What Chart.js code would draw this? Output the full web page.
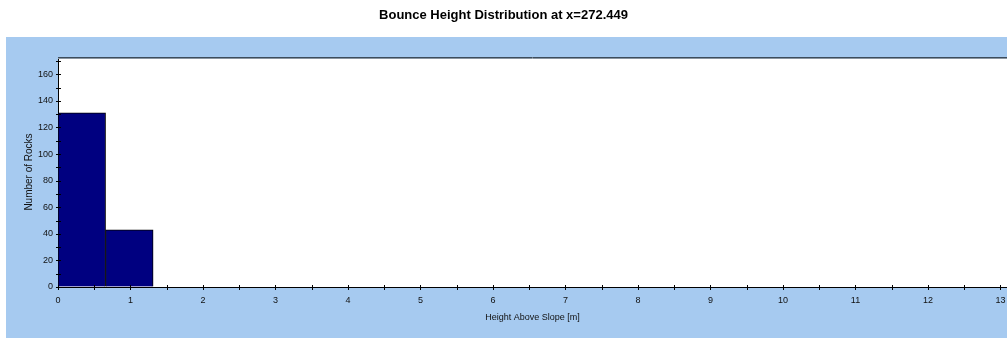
<!DOCTYPE html>
<html>
<head>
<meta charset="utf-8">
<script src="https://cdn.jsdelivr.net/npm/chart.js@4/dist/chart.umd.min.js"></script>
<style>
  html, body { margin: 0; padding: 0; background: #fff; overflow: hidden; }
  #wrap { width: 1007px; height: 338px; }
</style>
</head>
<body>
<div id="wrap"><canvas id="chart" width="1007" height="338"></canvas></div>
<script>
// histogram bins (left edge of each bin, in m) and rock counts
const binStarts = [0, 0.656];
const binWidth = 0.656;
const rockCounts = [131, 43];

const xTicks = [0, 1, 2, 3, 4, 5, 6, 7, 8, 9, 10, 11, 12, 13];
const yTicks = [0, 20, 40, 60, 80, 100, 120, 140, 160];

const chartTitle = 'Bounce Height Distribution at x=272.449';
const xTitle = 'Height Above Slope [m]';
const yTitle = 'Number of Rocks';

const bars = binStarts.map((s, i) => ({ x: s + binWidth / 2, y: rockCounts[i] }));

// blue panel behind the plot and white plot area
const panelBg = {
  id: 'panelBg',
  beforeDraw(chart) {
    const { ctx, chartArea: a } = chart;
    ctx.save();
    ctx.fillStyle = '#a6caf0';
    ctx.fillRect(6, 37, chart.width - 6, chart.height - 37);
    ctx.fillStyle = '#ffffff';
    ctx.fillRect(a.left, a.top, a.right - a.left, a.bottom - a.top);
    ctx.restore();
  }
};

// tick marks that cross the axis lines, with half-step minor ticks
const axisTicks = {
  id: 'axisTicks',
  afterDatasetsDraw(chart) {
    const { ctx, chartArea: a, scales } = chart;
    ctx.save();
    ctx.strokeStyle = '#000';
    ctx.lineWidth = 1;
    ctx.beginPath();
    for (let v = 0; v <= scales.x.max; v += 0.5) {
      const px = Math.round(scales.x.getPixelForValue(v)) + 0.5;
      ctx.moveTo(px, a.bottom - 2);
      ctx.lineTo(px, a.bottom + 3);
    }
    for (let v = 0; v <= scales.y.max; v += 10) {
      const py = Math.round(scales.y.getPixelForValue(v)) + 0.5;
      ctx.moveTo(a.left - 2, py);
      ctx.lineTo(a.left + 3, py);
    }
    ctx.stroke();
    // frame line along the top of the plot
    ctx.strokeStyle = '#3c4c5c';
    ctx.beginPath();
    ctx.moveTo(a.left, a.top + 0.5);
    ctx.lineTo(a.right, a.top + 0.5);
    ctx.stroke();
    ctx.strokeStyle = '#8a96a2';
    ctx.beginPath();
    ctx.moveTo(a.left, a.top + 1.5);
    ctx.lineTo(a.right, a.top + 1.5);
    ctx.stroke();
    ctx.restore();
  }
};

const ctx = document.getElementById('chart').getContext('2d');
const bounceChart = new Chart(ctx, {
  type: 'bar',
  data: {
    datasets: [{
      data: bars,
      backgroundColor: '#000080',
      borderColor: '#000000',
      borderWidth: 1,
      barPercentage: 1,
      categoryPercentage: 1
    }]
  },
  options: {
    responsive: false,
    animation: false,
    devicePixelRatio: 1,
    layout: { padding: 0 },
    plugins: {
      legend: { display: false },
      tooltip: { enabled: false },
      title: {
        display: true,
        text: chartTitle,
        color: '#000',
        font: { family: 'Liberation Sans, Arial, sans-serif', size: 13, weight: 'bold' },
        padding: { top: 8, bottom: 33.4 }
      }
    },
    scales: {
      x: {
        type: 'linear',
        offset: false,
        min: 0,
        max: 13.09,
        afterBuildTicks: s => { s.ticks = xTicks.map(v => ({ value: v })); },
        afterFit: s => {
          s.height = 51;
          // plot runs right up to the canvas edge
          s.paddingLeft = 0;
          s.paddingRight = 0;
        },
        ticks: {
          includeBounds: false,
          maxRotation: 0,
          autoSkip: false,
          padding: 8,
          color: '#111',
          font: { family: 'Liberation Sans, Arial, sans-serif', size: 9 }
        },
        grid: { display: true, drawOnChartArea: false, drawTicks: false },
        border: { display: true, color: '#000', width: 1 },
        title: {
          display: true,
          text: xTitle,
          color: '#111',
          font: { family: 'Liberation Sans, Arial, sans-serif', size: 9 },
          padding: { top: 0, bottom: 15 }
        }
      },
      y: {
        min: 0,
        max: 173,
        afterBuildTicks: s => { s.ticks = yTicks.map(v => ({ value: v })); },
        afterFit: s => { s.width = 58; },
        ticks: {
          includeBounds: false,
          padding: 5,
          color: '#111',
          font: { family: 'Liberation Sans, Arial, sans-serif', size: 9 }
        },
        grid: { display: true, drawOnChartArea: false, drawTicks: false },
        border: { display: true, color: '#000', width: 1 },
        title: {
          display: true,
          text: yTitle,
          color: '#111',
          font: { family: 'Liberation Sans, Arial, sans-serif', size: 10 },
          padding: { top: 23, bottom: 0 }
        }
      }
    }
  },
  plugins: [panelBg, axisTicks]
});
</script>
</body>
</html>
